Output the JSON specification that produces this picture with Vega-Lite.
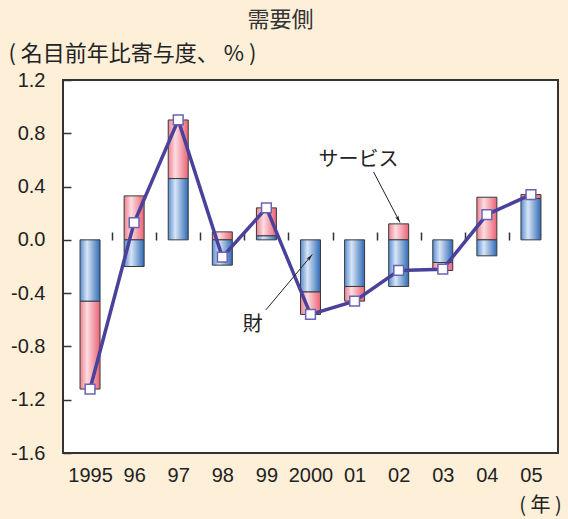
{
  "$schema": "https://vega.github.io/schema/vega-lite/v6.json",
  "autosize": "none",
  "width": 495,
  "height": 373,
  "padding": {"left": 63, "top": 80, "right": 10, "bottom": 66},
  "background": "#FDEFD8",
  "config": {
    "view": {"fill": "#FFFFFF", "stroke": "#333333", "strokeWidth": 2},
    "font": "Liberation Sans"
  },
  "title": {"text": "需要側", "anchor": "middle", "dx": -30, "font": "Noto Sans CJK JP", "fontSize": 22, "fontWeight": "normal", "color": "#333333", "offset": 10},
  "datasets": {
    "bars": [
      {"year": 1995, "type": "財", "value": -0.46}, {"year": 1995, "type": "サービス", "value": -0.66},
      {"year": 1996, "type": "財", "value": -0.20}, {"year": 1996, "type": "サービス", "value": 0.33},
      {"year": 1997, "type": "財", "value": 0.46}, {"year": 1997, "type": "サービス", "value": 0.44},
      {"year": 1998, "type": "財", "value": -0.19}, {"year": 1998, "type": "サービス", "value": 0.06},
      {"year": 1999, "type": "財", "value": 0.03}, {"year": 1999, "type": "サービス", "value": 0.21},
      {"year": 2000, "type": "財", "value": -0.39}, {"year": 2000, "type": "サービス", "value": -0.17},
      {"year": 2001, "type": "財", "value": -0.35}, {"year": 2001, "type": "サービス", "value": -0.11},
      {"year": 2002, "type": "財", "value": -0.35}, {"year": 2002, "type": "サービス", "value": 0.12},
      {"year": 2003, "type": "財", "value": -0.17}, {"year": 2003, "type": "サービス", "value": -0.06},
      {"year": 2004, "type": "財", "value": -0.12}, {"year": 2004, "type": "サービス", "value": 0.32},
      {"year": 2005, "type": "財", "value": 0.31}, {"year": 2005, "type": "サービス", "value": 0.03}
    ],
    "total": [
      {"year": 1995, "value": -1.12}, {"year": 1996, "value": 0.13}, {"year": 1997, "value": 0.90},
      {"year": 1998, "value": -0.13}, {"year": 1999, "value": 0.24}, {"year": 2000, "value": -0.56},
      {"year": 2001, "value": -0.46}, {"year": 2002, "value": -0.23}, {"year": 2003, "value": -0.22},
      {"year": 2004, "value": 0.19}, {"year": 2005, "value": 0.34}
    ],
    "notes": [
      {"year": 2001.09, "value": 0.6, "label": "サービス"},
      {"year": 1998.69, "value": -0.64, "label": "財"}
    ],
    "arrows": [
      {"x1": 2001.43, "y1": 0.51, "x2": 2002.03, "y2": 0.13},
      {"x1": 1998.99, "y1": -0.525, "x2": 2000.04, "y2": -0.11}
    ]
  },
  "layer": [
    {
      "data": {"name": "bars"},
      "transform": [
        {"stack": "value", "groupby": ["year"], "sort": [{"field": "type", "order": "descending"}], "as": ["v0", "v1"]},
        {"filter": "datum.type === 'サービス'"}
      ],
      "mark": {"type": "bar", "width": 20, "stroke": "#3a3a3a", "strokeWidth": 1,
        "fill": {"gradient": "linear", "x1": 0, "y1": 0, "x2": 1, "y2": 0,
          "stops": [{"offset": 0, "color": "#EE7F8E"}, {"offset": 0.35, "color": "#FCDDE1"}, {"offset": 1, "color": "#EA6274"}]}},
      "encoding": {
        "x": {"field": "year", "type": "quantitative",
          "scale": {"domain": [1994.5, 2005.5], "nice": false, "zero": false},
          "axis": {"orient": "bottom", "values": [1995, 1996, 1997, 1998, 1999, 2000, 2001, 2002, 2003, 2004, 2005],
            "labelExpr": "datum.value == 1995 || datum.value == 2000 ? '' + datum.value : slice('' + datum.value, 2)",
            "ticks": false, "domain": false, "grid": false, "labelPadding": 12, "labelFontSize": 20, "labelColor": "#222222", "labelFont": "Liberation Sans",
            "title": "( 年 )", "titleFont": "Noto Sans CJK JP", "titleFontSize": 20, "titleFontWeight": "normal", "titleColor": "#222222",
            "titleX": 477, "titleY": 52, "titleAlign": "center", "titleBaseline": "middle"}},
        "y": {"field": "v0", "type": "quantitative",
          "scale": {"domain": [-1.6, 1.2], "nice": false, "zero": false},
          "axis": {"values": [-1.6, -1.2, -0.8, -0.4, 0, 0.4, 0.8, 1.2], "labelExpr": "replace(format(datum.value, '.1f'), '−', '-')", "grid": false, "domain": false,
            "tickSize": -8, "tickColor": "#333333", "tickWidth": 1.5, "labelPadding": 26, "labelFontSize": 20, "labelColor": "#222222", "labelFont": "Liberation Sans",
            "title": "( 名目前年比寄与度、 % )", "titleFont": "Noto Sans CJK JP", "titleFontSize": 22, "titleFontWeight": "normal", "titleColor": "#222222",
            "titleAngle": 0, "titleX": -55, "titleY": -27, "titleAlign": "left", "titleBaseline": "middle"}},
        "y2": {"field": "v1"}
      }
    },
    {
      "data": {"name": "bars"},
      "transform": [
        {"stack": "value", "groupby": ["year"], "sort": [{"field": "type", "order": "descending"}], "as": ["v0", "v1"]},
        {"filter": "datum.type === '財'"}
      ],
      "mark": {"type": "bar", "width": 20, "stroke": "#3a3a3a", "strokeWidth": 1,
        "fill": {"gradient": "linear", "x1": 0, "y1": 0, "x2": 1, "y2": 0,
          "stops": [{"offset": 0, "color": "#578DD0"}, {"offset": 0.35, "color": "#D8E5F6"}, {"offset": 1, "color": "#2F6AB5"}]}},
      "encoding": {
        "x": {"field": "year", "type": "quantitative",
          "scale": {"domain": [1994.5, 2005.5], "nice": false, "zero": false},
          "axis": {"orient": "bottom", "offset": -213, "values": [1995.5, 1996.5, 1997.5, 1998.5, 1999.5, 2000.5, 2001.5, 2002.5, 2003.5, 2004.5],
            "labels": false, "domain": false, "grid": false, "tickSize": -8, "tickColor": "#333333", "tickWidth": 1.5, "title": null}},
        "y": {"field": "v0", "type": "quantitative", "scale": {"domain": [-1.6, 1.2], "nice": false, "zero": false}, "axis": null},
        "y2": {"field": "v1"}
      }
    },
    {
      "mark": {"type": "rule", "color": "#444444", "strokeWidth": 1.5},
      "encoding": {"y": {"datum": 0, "type": "quantitative", "scale": {"domain": [-1.6, 1.2], "nice": false, "zero": false}, "axis": null}}
    },
    {
      "data": {"name": "total"},
      "mark": {"type": "line", "color": "#4A429A", "strokeWidth": 3.5},
      "encoding": {
        "x": {"field": "year", "type": "quantitative", "scale": {"domain": [1994.5, 2005.5], "nice": false, "zero": false}, "axis": null},
        "y": {"field": "value", "type": "quantitative", "scale": {"domain": [-1.6, 1.2], "nice": false, "zero": false}, "axis": null}
      }
    },
    {
      "data": {"name": "total"},
      "mark": {"type": "point", "shape": "square", "filled": true, "fill": "#FFFFFF", "stroke": "#6A62B2", "strokeWidth": 1.5, "size": 95, "opacity": 1},
      "encoding": {
        "x": {"field": "year", "type": "quantitative", "scale": {"domain": [1994.5, 2005.5], "nice": false, "zero": false}, "axis": null},
        "y": {"field": "value", "type": "quantitative", "scale": {"domain": [-1.6, 1.2], "nice": false, "zero": false}, "axis": null}
      }
    },
    {
      "data": {"name": "notes"},
      "mark": {"type": "text", "font": "Noto Sans CJK JP", "fontSize": 20, "color": "#222222", "align": "center", "baseline": "middle"},
      "encoding": {
        "x": {"field": "year", "type": "quantitative", "scale": {"domain": [1994.5, 2005.5], "nice": false, "zero": false}, "axis": null},
        "y": {"field": "value", "type": "quantitative", "scale": {"domain": [-1.6, 1.2], "nice": false, "zero": false}, "axis": null},
        "text": {"field": "label"}
      }
    },
    {
      "data": {"name": "arrows"},
      "mark": {"type": "rule", "color": "#222222", "strokeWidth": 1},
      "encoding": {
        "x": {"field": "x1", "type": "quantitative", "scale": {"domain": [1994.5, 2005.5], "nice": false, "zero": false}, "axis": null},
        "y": {"field": "y1", "type": "quantitative", "scale": {"domain": [-1.6, 1.2], "nice": false, "zero": false}, "axis": null},
        "x2": {"field": "x2"},
        "y2": {"field": "y2"}
      }
    },
    {
      "data": {"values": [{"x": 2002.03, "y": 0.13}]},
      "mark": {"type": "point", "shape": "M0,0L-0.5,2L0,1.6L0.5,2Z", "filled": true, "color": "#222222", "opacity": 1, "size": 49, "angle": 152},
      "encoding": {
        "x": {"field": "x", "type": "quantitative", "scale": {"domain": [1994.5, 2005.5], "nice": false, "zero": false}, "axis": null},
        "y": {"field": "y", "type": "quantitative", "scale": {"domain": [-1.6, 1.2], "nice": false, "zero": false}, "axis": null}
      }
    },
    {
      "data": {"values": [{"x": 2000.04, "y": -0.11}]},
      "mark": {"type": "point", "shape": "M0,0L-0.5,2L0,1.6L0.5,2Z", "filled": true, "color": "#222222", "opacity": 1, "size": 49, "angle": 41},
      "encoding": {
        "x": {"field": "x", "type": "quantitative", "scale": {"domain": [1994.5, 2005.5], "nice": false, "zero": false}, "axis": null},
        "y": {"field": "y", "type": "quantitative", "scale": {"domain": [-1.6, 1.2], "nice": false, "zero": false}, "axis": null}
      }
    }
  ],
  "resolve": {"axis": {"x": "independent", "y": "independent"}}
}
